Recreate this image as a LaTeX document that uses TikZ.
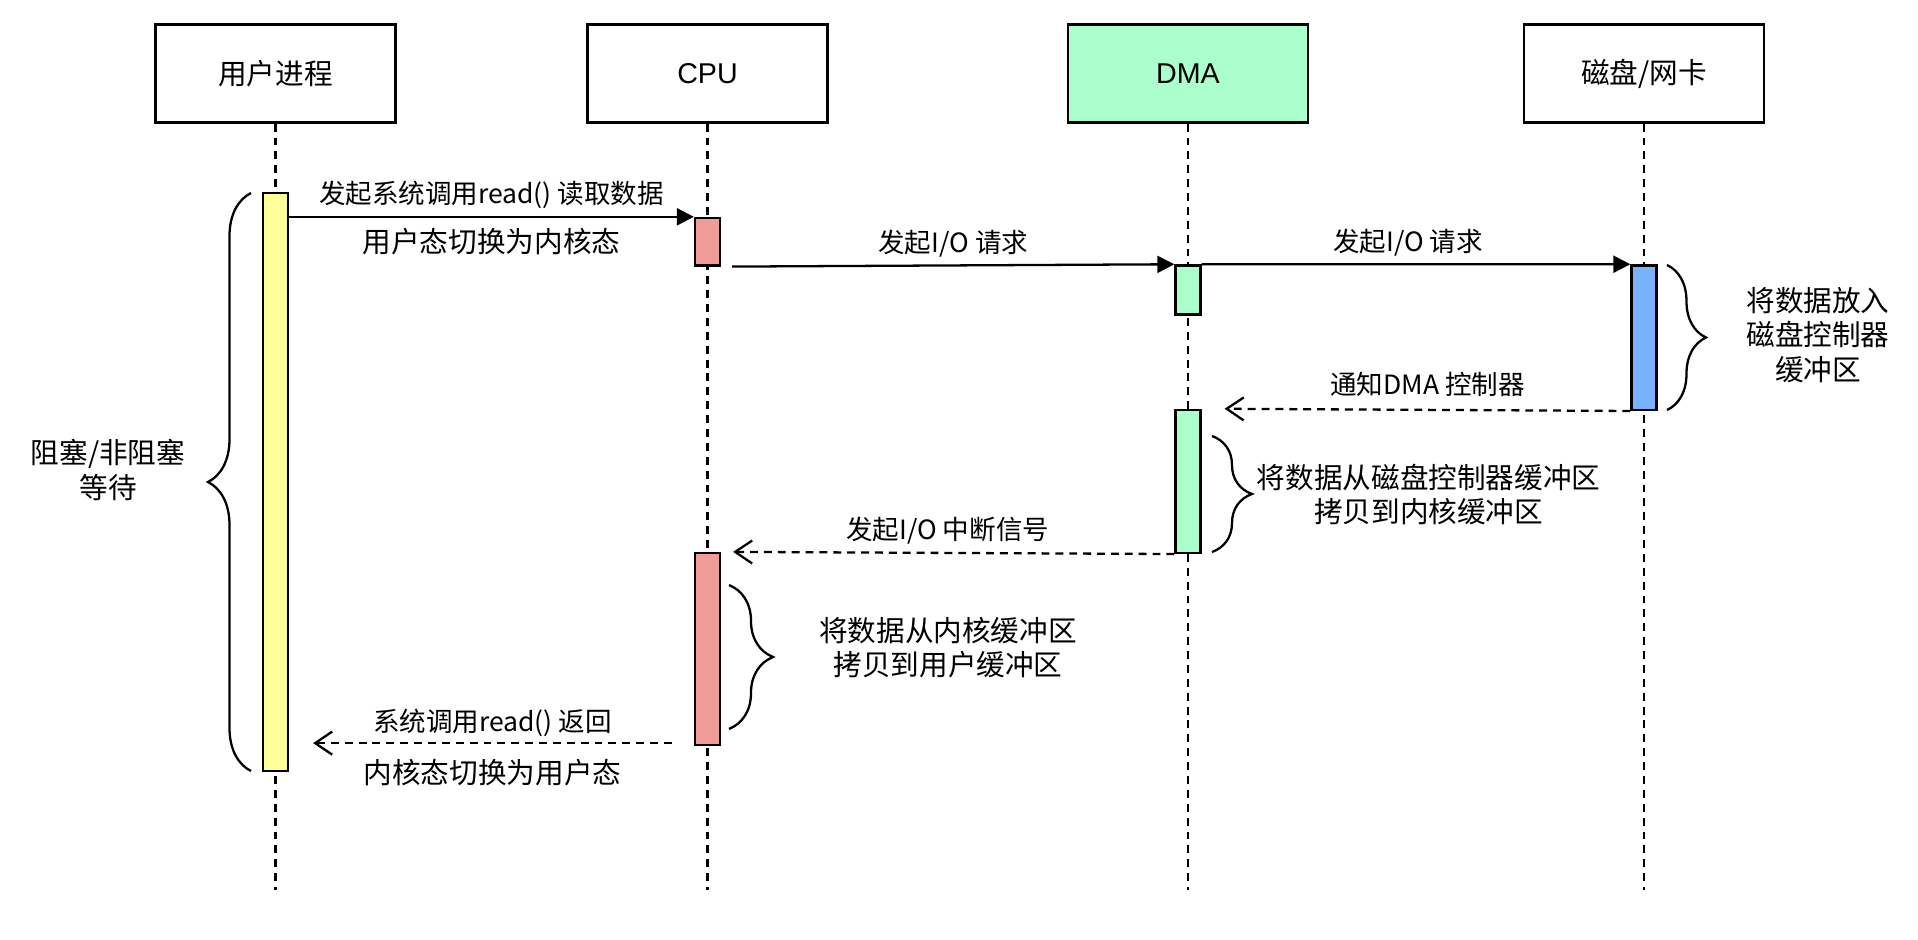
\documentclass[tikz,border=0pt]{standalone}
\usepackage{fontspec}
\setmainfont{Liberation Sans}
\newfontfamily\cjk{Noto Sans CJK SC}
\newcommand\zhfont{\fontsize{16.3}{19.6}\selectfont\cjk}
\newcommand\zhsmall{\fontsize{15.1}{18.2}\selectfont\cjk}
\usetikzlibrary{arrows.meta, decorations.pathreplacing}
\definecolor{cyellow}{HTML}{FFFF99}
\definecolor{cred}{HTML}{F19C99}
\definecolor{cgreen}{HTML}{AAFFCC}
\definecolor{cblue}{HTML}{78B3FF}
\tikzset{
  every picture/.style={line width=1.3pt, font=\fontsize{16.3}{19.6}\selectfont},
  head/.style={draw, fill=#1, minimum width=4.8cm, minimum height=1.96cm, inner sep=0pt},
  head/.default=white,
  actbar/.style={draw, fill=#1, minimum width=0.5cm, inner sep=0pt},
  life/.style={line width=1.2pt, dash pattern=on 4.5pt off 3.4pt},
  call/.style={-{Triangle[length=0.34cm, width=0.34cm]}},
  ret/.style={dash pattern=on 4.5pt off 3.4pt, -{Straight Barb[length=0.34cm, width=0.46cm]}},
  msgup/.style={midway, yshift=0.44cm, font=\zhsmall},
  msgdown/.style={midway, yshift=-0.5cm, font=\zhfont},
  curly/.style={decorate, decoration={brace, amplitude=#1}},
  note/.style={align=center, font=\zhfont},
}

\begin{document}
\begin{tikzpicture}[x=0.02cm, y=-0.02cm]
  \useasboundingbox (0,0) rectangle (1918,940);
  % ---- heads and lifelines
  \node[head] (user) at (275.5,73.5) {\cjk 用户进程};
  \node[head] (cpu) at (707.5,73.5) {CPU};
  \node[head=cgreen] (dma) at (1188,73.5) {DMA};
  \node[head] (disk) at (1644,73.5) {\cjk 磁盘/网卡};
  \coordinate (bottom) at (0,890);
  \foreach \n in {user, cpu, dma, disk}
    \draw[life] (\n.south) -- (\n.south |- bottom);
  % ---- activations
  \node[actbar=cyellow, minimum height=11.56cm] (ua) at (275.5,482) {};
  \node[actbar=cred, minimum height=0.95cm] (c1) at (707.5,241.7) {};
  \node[actbar=cgreen, minimum height=0.98cm] (d1) at (1188,289.9) {};
  \node[actbar=cblue, minimum height=2.89cm] (b1) at (1644,337.6) {};
  \node[actbar=cgreen, minimum height=2.86cm] (d2) at (1188,481.4) {};
  \node[actbar=cred, minimum height=3.84cm] (c2) at (707.5,649) {};
  % ---- messages
  \draw[call] (ua.east |- c1.north) -- (c1.north west)
    node[msgup] {发起系统调用read() 读取数据}
    node[msgdown] {用户态切换为内核态};
  \draw[call] ([xshift=0.22cm]c1.south east) -- (d1.north west)
    node[msgup] {发起I/O 请求};
  \draw[call] (d1.north east) -- (b1.north west)
    node[msgup, xshift=-0.16cm] {发起I/O 请求};
  \draw[ret] (b1.south west) -- ([xshift=0.46cm]d2.north east)
    node[msgup, yshift=0.06cm] {通知DMA 控制器};
  \draw[ret] (d2.south west) -- ([xshift=0.24cm]c2.north east)
    node[msgup, xshift=-0.12cm] {发起I/O 中断信号};
  \draw[ret] ([xshift=-0.44cm, yshift=0.06cm]c2.south west) -- ([xshift=0.48cm, yshift=0.06cm]ua.east |- c2.south)
    node[msgup, yshift=-0.04cm] {系统调用read() 返回}
    node[msgdown, yshift=-0.1cm] {内核态切换为用户态};
  % ---- braces and notes
  \draw[curly=0.86cm] (251,771) -- (251,193);
  \node[note] (wait) at (108,470) {阻塞/非阻塞\\等待};
  \draw[curly=0.78cm] (1667,265) -- (1667,410);
  \node[note] (put) at (1818,335) {将数据放入\\磁盘控制器\\缓冲区};
  \draw[curly=0.8cm] (1212,436) -- (1212,552);
  \node[note] (copyk) at (1428.7,494.5) {将数据从磁盘控制器缓冲区\\拷贝到内核缓冲区};
  \draw[curly=0.88cm] (729,585) -- (729,729);
  \node[note] (copyu) at (948,647.5) {将数据从内核缓冲区\\拷贝到用户缓冲区};
\end{tikzpicture}
\end{document}
